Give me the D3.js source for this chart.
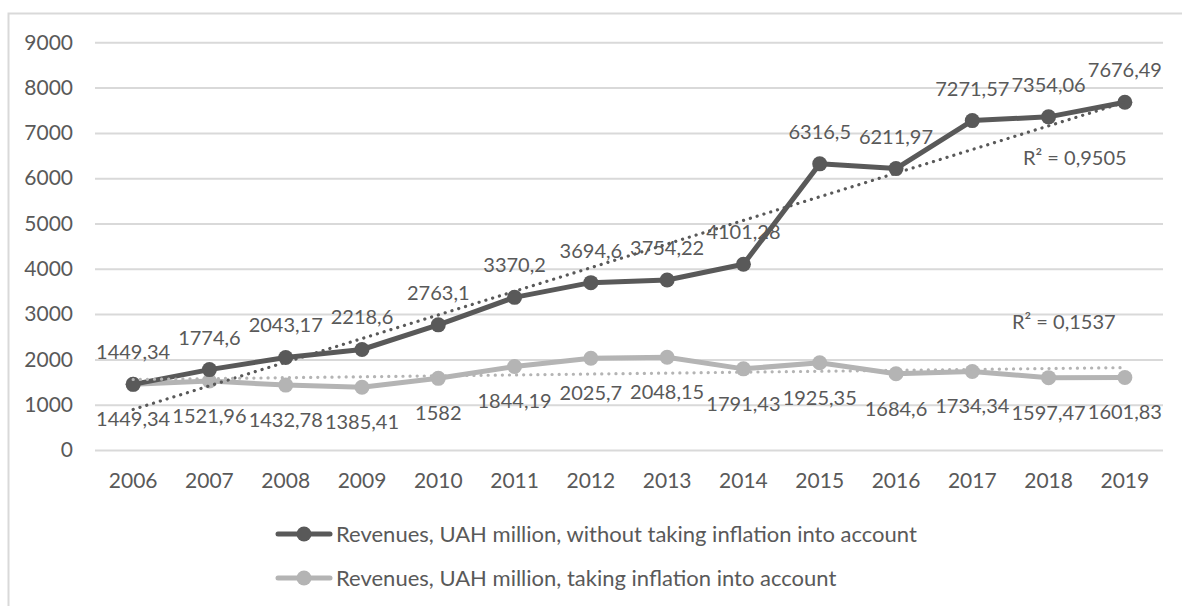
<!DOCTYPE html>
<html>
<head>
<meta charset="utf-8">
<script src="https://cdn.jsdelivr.net/npm/d3@7"></script>
<style>
  html, body { margin: 0; padding: 0; background: #fff; }
  svg { display: block; font-family: Lato, "Liberation Sans", sans-serif; }
</style>
</head>
<body>
<svg id="chart" width="1182" height="606"></svg>
<script>
// Revenues by year, UAH million
const years = ["2006","2007","2008","2009","2010","2011","2012","2013","2014","2015","2016","2017","2018","2019"];
const nominal = [1449.34,1774.6,2043.17,2218.6,2763.1,3370.2,3694.6,3754.22,4101.28,6316.5,6211.97,7271.57,7354.06,7676.49];
const real = [1449.34,1521.96,1432.78,1385.41,1582,1844.19,2025.7,2048.15,1791.43,1925.35,1684.6,1734.34,1597.47,1601.83];
const yTicks = [0,1000,2000,3000,4000,5000,6000,7000,8000,9000];
const seriesNames = [
  "Revenues, UAH million, without taking inflation into account",
  "Revenues, UAH million, taking inflation into account"
];
const r2Labels = ["R² = 0,9505", "R² = 0,1537"];

const DARK = "#595959", LIGHT = "#b4b4b4", TEXT = "#595959", GRID = "#d9d9d9";
const FONT = 20, AXIS_FONT = 21, LEGEND_FONT = 22;
const FAMILY = "Lato, 'Liberation Sans', sans-serif";

const svg = d3.select("#chart");

// outer chart frame
svg.append("rect").attr("x", 8.5).attr("y", 13.5).attr("width", 1300).attr("height", 700)
  .attr("fill", "none").attr("stroke", GRID).attr("stroke-width", 2);

const plot = { left: 95, right: 1163, top: 42.3, bottom: 450 };

const x = d3.scaleBand().domain(years).range([plot.left, plot.right]);
const y = d3.scaleLinear().domain([0, 9000]).range([plot.bottom, plot.top]);
const cx = d => x(d) + x.bandwidth() / 2;

// gridlines + y labels
const yAxis = d3.axisLeft(y).tickValues(yTicks).tickSize(-(plot.right - plot.left)).tickPadding(22).tickFormat(d3.format("d"));
const gy = svg.append("g").attr("transform", `translate(${plot.left},0)`).call(yAxis);
gy.select(".domain").remove();
gy.selectAll(".tick line").attr("stroke", GRID).attr("stroke-width", 2);
gy.selectAll(".tick text").attr("fill", TEXT).style("font-size", AXIS_FONT + "px").style("font-family", FAMILY);

// x labels
const xAxis = d3.axisBottom(x).tickSize(0).tickPadding(23);
const gx = svg.append("g").attr("transform", `translate(0,${plot.bottom})`).call(xAxis);
gx.select(".domain").remove();
gx.selectAll(".tick text").attr("fill", TEXT).style("font-size", AXIS_FONT + "px").style("font-family", FAMILY);

// least-squares linear trend
function trend(vals) {
  const n = vals.length;
  const xs = d3.range(n);
  const mx = d3.mean(xs), my = d3.mean(vals);
  let sxy = 0, sxx = 0;
  xs.forEach((xi, i) => { sxy += (xi - mx) * (vals[i] - my); sxx += (xi - mx) ** 2; });
  const b = sxy / sxx, a = my - b * mx;
  return [a, a + b * (n - 1)];
}

const line = d3.line().x((d, i) => cx(years[i])).y(d => y(d));
const fmt = v => String(v).replace(".", ",");

function drawSeries(vals, color) {
  const g = svg.append("g");
  g.append("path").datum(vals).attr("d", line)
    .attr("fill", "none").attr("stroke", color).attr("stroke-width", 5).attr("stroke-linejoin", "round");
  g.selectAll("circle").data(vals).enter().append("circle")
    .attr("cx", (d, i) => cx(years[i])).attr("cy", d => y(d)).attr("r", 7.5).attr("fill", color);
  return g;
}

function drawTrend(vals, color) {
  const [a, b] = trend(vals);
  svg.append("line")
    .attr("x1", cx(years[0])).attr("x2", cx(years[years.length - 1]))
    .attr("y1", y(a)).attr("y2", y(b))
    .attr("stroke", color).attr("stroke-width", 3.2)
    .attr("stroke-linecap", "round").attr("stroke-dasharray", "0.1 7");
}

drawSeries(real, LIGHT);
drawSeries(nominal, DARK);
drawTrend(nominal, DARK);
drawTrend(real, LIGHT);

// data labels
svg.append("g").selectAll("text").data(nominal).enter().append("text")
  .attr("x", (d, i) => cx(years[i])).attr("y", d => y(d) - 25)
  .attr("text-anchor", "middle").attr("fill", TEXT).style("font-size", FONT + "px")
  .text(fmt);
svg.append("g").selectAll("text").data(real).enter().append("text")
  .attr("x", (d, i) => cx(years[i])).attr("y", d => y(d) + 42)
  .attr("text-anchor", "middle").attr("fill", TEXT).style("font-size", FONT + "px")
  .text(fmt);

// R² annotations
svg.append("text").attr("x", 1023).attr("y", 165).attr("fill", TEXT).style("font-size", FONT + "px").text(r2Labels[0]);
svg.append("text").attr("x", 1012).attr("y", 329).attr("fill", TEXT).style("font-size", FONT + "px").text(r2Labels[1]);

// legend
const legend = svg.append("g");
[[DARK, 534], [LIGHT, 578]].forEach(([c, ly], i) => {
  legend.append("line").attr("x1", 278).attr("x2", 330).attr("y1", ly).attr("y2", ly)
    .attr("stroke", c).attr("stroke-width", 5).attr("stroke-linecap", "round");
  legend.append("circle").attr("cx", 304).attr("cy", ly).attr("r", 7.5).attr("fill", c);
  legend.append("text").attr("x", 336).attr("y", ly + 8).attr("fill", TEXT)
    .style("font-size", LEGEND_FONT + "px").text(seriesNames[i]);
});
</script>
</body>
</html>
